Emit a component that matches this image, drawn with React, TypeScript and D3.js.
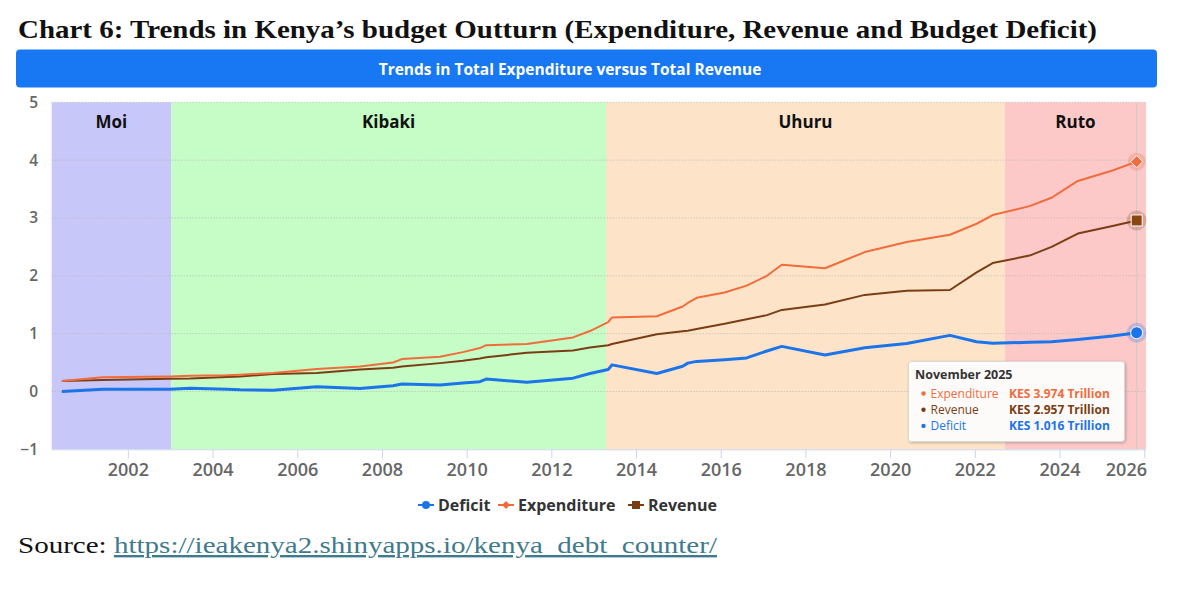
import React from "react";
import * as d3 from "d3";

// ---- data (decimal years) ----
const years = [
  2000.43, 2001.4, 2002.98, 2003.46, 2004.33, 2004.64, 2005.42, 2006.45, 2007.47, 2008.25,
  2008.46, 2009.36, 2009.9, 2010.3, 2010.45, 2011.41, 2012.5, 2012.9, 2013.33, 2013.42,
  2014.48, 2015.09, 2015.21, 2015.42, 2016.08, 2016.6, 2017.08, 2017.43, 2018.45, 2019.39,
  2020.38, 2021.4, 2022.03, 2022.41, 2023.28, 2023.8, 2024.42, 2025.24, 2025.81,
];
const expenditure = [
  0.18, 0.245, 0.26, 0.27, 0.28, 0.29, 0.32, 0.39, 0.43, 0.5,
  0.56, 0.6, 0.68, 0.75, 0.8, 0.82, 0.935, 1.045, 1.2, 1.28,
  1.3, 1.47, 1.53, 1.62, 1.71, 1.83, 2.0, 2.19, 2.13, 2.41,
  2.585, 2.71, 2.9, 3.05, 3.205, 3.35, 3.64, 3.82, 3.974,
];
const revenue = [
  0.18, 0.2, 0.22, 0.225, 0.25, 0.26, 0.3, 0.32, 0.38, 0.41,
  0.43, 0.49, 0.53, 0.57, 0.59, 0.67, 0.71, 0.76, 0.8, 0.82,
  0.99, 1.04, 1.05, 1.08, 1.17, 1.25, 1.32, 1.41, 1.505, 1.67,
  1.74, 1.755, 2.06, 2.22, 2.35, 2.5, 2.73, 2.86, 2.957,
];
const deficit = [
  0.0, 0.04, 0.04, 0.055, 0.04, 0.03, 0.02, 0.08, 0.05, 0.1,
  0.13, 0.11, 0.145, 0.17, 0.215, 0.16, 0.23, 0.31, 0.38, 0.46,
  0.31, 0.435, 0.49, 0.52, 0.55, 0.58, 0.7, 0.78, 0.63, 0.755,
  0.83, 0.97, 0.86, 0.835, 0.85, 0.86, 0.9, 0.96, 1.016,
];

const eraNames = ["Moi", "Kibaki", "Uhuru", "Ruto"];
const eraStarts = [2000.19, 2003.01, 2013.28, 2022.7];
const eraEnds = [2003.01, 2013.28, 2022.7, 2026.03];
const eraColors = ["#c7c7fa", "#c6fcc6", "#fde4c8", "#fdc8c8"];

const xTicks = [2002, 2004, 2006, 2008, 2010, 2012, 2014, 2016, 2018, 2020, 2022, 2024, 2026];
const yTicks = [-1, 0, 1, 2, 3, 4, 5];

const seriesNames = ["Deficit", "Expenditure", "Revenue"];
const seriesColors = ["#1c74ea", "#f26b3a", "#7a3e14"];

const tooltipTitle = "November 2025";
const tooltipLabels = ["Expenditure", "Revenue", "Deficit"];
const tooltipValues = ["KES 3.974 Trillion", "KES 2.957 Trillion", "KES 1.016 Trillion"];
const tooltipColors = ["#f26b3a", "#7a3e14", "#1c74ea"];

const SANS = "'Open Sans', 'Noto Sans', sans-serif";
const SERIF = "'Liberation Serif', 'DejaVu Serif', serif";

export default function App() {
  const W = 1200;
  const H = 590;
  const x = d3.scaleLinear().domain([2000.19, 2026.03]).range([51.7, 1146]);
  const y = d3.scaleLinear().domain([-1, 5]).range([449.3, 102.3]);

  const mk = (vals: number[]) =>
    d3
      .line<number>()
      .x((_, i) => x(years[i]))
      .y((v) => y(v))(vals) as string;

  const last = years.length - 1;
  const lx = x(years[last]);

  const legendItems = [
    { name: seriesNames[0], color: seriesColors[0], sym: "circle", x: 418 },
    { name: seriesNames[1], color: seriesColors[1], sym: "diamond", x: 498 },
    { name: seriesNames[2], color: seriesColors[2], sym: "square", x: 628 },
  ];

  const sym = (kind: string, cx: number, cy: number, r: number, color: string, extra?: any) => {
    if (kind === "circle") return <circle cx={cx} cy={cy} r={r} fill={color} {...extra} />;
    if (kind === "square")
      return <rect x={cx - r} y={cy - r} width={2 * r} height={2 * r} fill={color} {...extra} />;
    return (
      <path
        d={`M${cx},${cy - r}L${cx + r},${cy}L${cx},${cy + r}L${cx - r},${cy}Z`}
        fill={color}
        {...extra}
      />
    );
  };

  return (
    <div style={{ position: "fixed", left: 0, top: 0, width: W, height: H, background: "#fff" }}>
      <svg width={W} height={H} viewBox={`0 0 ${W} ${H}`}>
        <defs>
          <filter id="shadow" x="-10%" y="-10%" width="130%" height="140%">
            <feDropShadow dx="1" dy="1" stdDeviation="1.5" floodColor="#000" floodOpacity="0.25" />
          </filter>
        </defs>
        <rect x={0} y={0} width={W} height={H} fill="#fff" />

        {/* Title */}
        <text
          x={18}
          y={38}
          fontFamily={SERIF}
          fontWeight="bold"
          fontSize={26}
          fill="#111"
          textLength={1079}
          lengthAdjust="spacingAndGlyphs"
        >
          Chart 6: Trends in Kenya’s budget Outturn (Expenditure, Revenue and Budget Deficit)
        </text>

        {/* Header bar */}
        <rect x={16} y={49.5} width={1141} height={38} rx={4} fill="#1877f2" />
        <text
          x={570}
          y={74.5}
          textAnchor="middle"
          fontFamily={SANS}
          fontWeight="bold"
          fontSize={15.5}
          fill="#fff"
        >
          Trends in Total Expenditure versus Total Revenue
        </text>

        {/* Era bands */}
        {eraNames.map((n, i) => (
          <g key={n}>
            <rect
              x={x(eraStarts[i])}
              y={y(5)}
              width={x(eraEnds[i]) - x(eraStarts[i])}
              height={y(-1) - y(5)}
              fill={eraColors[i]}
            />
            <text
              x={(x(eraStarts[i]) + x(eraEnds[i])) / 2}
              y={128}
              textAnchor="middle"
              fontFamily={SANS}
              fontWeight="bold"
              fontSize={17}
              fill="#111"
            >
              {n}
            </text>
          </g>
        ))}

        {/* Grid lines */}
        {yTicks
          .filter((t) => t > -1)
          .map((t) => (
            <line
              key={t}
              x1={x.range()[0]}
              x2={x.range()[1]}
              y1={y(t)}
              y2={y(t)}
              stroke="#b8b8b8"
              strokeWidth={1}
              strokeDasharray="1,2"
            />
          ))}

        {/* Y axis labels */}
        {yTicks.map((t) => (
          <text
            key={t}
            x={38}
            y={y(t) + 5.5}
            textAnchor="end"
            fontFamily={SANS}
            fontWeight={600}
            fontSize={15.5}
            fill="#666"
          >
            {t < 0 ? `−${Math.abs(t)}` : t}
          </text>
        ))}

        {/* X axis */}
        <line x1={x.range()[0]} x2={x.range()[1]} y1={y(-1) + 0.5} y2={y(-1) + 0.5} stroke="#ccd6eb" />
        {xTicks.map((t) => {
          const px = x(t);
          const isLast = px + 23 > 1147;
          return (
            <g key={t}>
              <line x1={px} x2={px} y1={y(-1)} y2={y(-1) + 9} stroke="#ccd6eb" />
              <text
                x={isLast ? 1147 : px}
                y={476}
                textAnchor={isLast ? "end" : "middle"}
                fontFamily={SANS}
                fontWeight={600}
                fontSize={18}
                fill="#666"
              >
                {t}
              </text>
            </g>
          );
        })}

        {/* crosshair */}
        <line x1={lx} x2={lx} y1={y(5)} y2={y(-1)} stroke="#cccccc" strokeWidth={1} />

        {/* Lines */}
        <path d={mk(revenue)} fill="none" stroke={seriesColors[2]} strokeWidth={2} strokeLinejoin="round" />
        <path d={mk(expenditure)} fill="none" stroke={seriesColors[1]} strokeWidth={2} strokeLinejoin="round" />
        <path d={mk(deficit)} fill="none" stroke={seriesColors[0]} strokeWidth={3} strokeLinejoin="round" />

        {/* end markers with halos */}
        <circle cx={lx} cy={y(expenditure[last])} r={9} fill={seriesColors[1]} opacity={0.25} />
        {sym("diamond", lx, y(expenditure[last]), 6, seriesColors[1], { stroke: "#fff", strokeWidth: 1 })}
        <circle cx={lx} cy={y(revenue[last])} r={10} fill={seriesColors[2]} opacity={0.25} />
        {sym("square", lx, y(revenue[last]), 5.5, "#8b4513", { stroke: "#fff", strokeWidth: 1 })}
        <circle cx={lx} cy={y(deficit[last])} r={10} fill={seriesColors[0]} opacity={0.25} />
        {sym("circle", lx, y(deficit[last]), 6, seriesColors[0], { stroke: "#fff", strokeWidth: 1 })}

        {/* Tooltip */}
        <g>
          <rect
            x={908.5}
            y={361.5}
            width={216}
            height={80}
            rx={3}
            fill="rgba(255,255,255,0.92)"
            stroke="#d8d8d8"
            filter="url(#shadow)"
          />
          <text x={915} y={378.5} fontFamily={SANS} fontWeight="bold" fontSize={12.5} fill="#333">
            {tooltipTitle}
          </text>
          {tooltipLabels.map((l, i) => (
            <g key={l}>
              <circle cx={923.5} cy={393.5 + i * 16.2} r={2.2} fill={tooltipColors[i]} />
              <text x={930.5} y={397.7 + i * 16.2} fontFamily={SANS} fontSize={12} fill={tooltipColors[i]}>
                {l}
              </text>
              <text
                x={1009}
                y={397.7 + i * 16.2}
                fontFamily={SANS}
                fontWeight="bold"
                fontSize={12}
                fill={tooltipColors[i]}
              >
                {tooltipValues[i]}
              </text>
            </g>
          ))}
        </g>

        {/* Legend */}
        {legendItems.map((it) => (
          <g key={it.name}>
            <line x1={it.x} x2={it.x + 16} y1={505} y2={505} stroke={it.color} strokeWidth={2} />
            {sym(it.sym, it.x + 8, 505, 4, it.color)}
            <text x={it.x + 20} y={510.5} fontFamily={SANS} fontWeight="bold" fontSize={16} fill="#333">
              {it.name}
            </text>
          </g>
        ))}

        {/* Source */}
        <text x={18} y={553} fontFamily={SERIF} fontSize={24} fill="#111" textLength={699} lengthAdjust="spacingAndGlyphs">
          Source:{" "}
          <tspan fill="#3f7b8c" style={{ textDecoration: "underline" }}>
            https://ieakenya2.shinyapps.io/kenya_debt_counter/
          </tspan>
        </text>
      </svg>
    </div>
  );
}
